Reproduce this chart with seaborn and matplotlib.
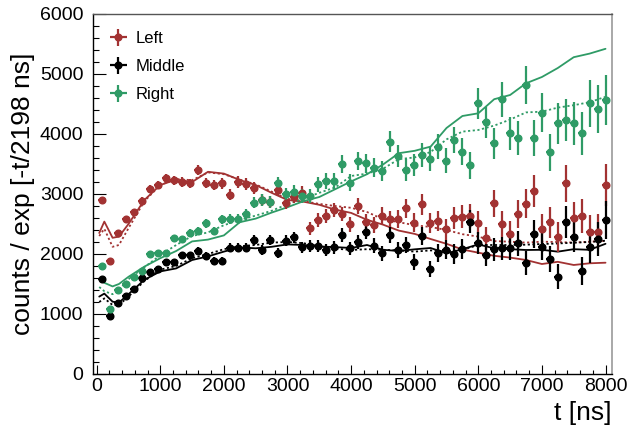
import numpy as np
import pandas as pd
import matplotlib
matplotlib.use("Agg")
import matplotlib.pyplot as plt
import seaborn as sns
from matplotlib.ticker import MultipleLocator

# ---------------- data ----------------
TAU = 2198.0          # ns, from the axis title
BIN_WIDTH = 125.8     # ns
FIRST_BIN = 83.0      # ns
n_bins = 64
t_bins = FIRST_BIN + BIN_WIDTH * np.arange(n_bins)

left_counts = [2900, 1880, 2345, 2578, 2695, 2880, 3085, 3150, 3260, 3233,
               3200, 3178, 3400, 3178, 3150, 3178, 2990, 3200, 3165, 3095,
               2900, 2860, 3067, 2855, 2955, 3011, 2428, 2567, 2633, 2733,
               2667, 2495, 2800, 2539, 2483, 2633, 2578, 2578, 2761, 2522,
               2828, 2511, 2550, 2411, 2594, 2622, 2633, 2522, 2265, 2845,
               2500, 2340, 2667, 2840, 3050, 2417, 2528, 2278, 3175, 2594,
               2633, 2372, 2372, 3150]
middle_counts = [1578, 965, 1178, 1300, 1420, 1600, 1706, 1744, 1861, 1861,
                 1978, 1978, 2056, 1967, 1883, 1883, 2106, 2106, 2106, 2233,
                 2067, 2233, 2022, 2222, 2278, 2111, 2133, 2133, 2067, 2111,
                 2317, 2094, 2205, 2372, 2139, 2011, 2317, 2067, 2150, 1872,
                 2300, 1750, 2011, 2067, 2000, 2083, 2539, 2189, 1983, 2078,
                 2094, 2094, 2178, 1855, 2333, 2122, 1917, 1622, 2528, 2289,
                 1717, 2122, 2244, 2567]
right_counts = [1800, 1083, 1400, 1500, 1610, 1720, 1994, 2011, 2011, 2261,
                2244, 2344, 2383, 2511, 2383, 2578, 2578, 2578, 2661, 2855,
                2895, 2860, 3180, 3000, 3039, 2967, 2967, 3160, 3220, 3210,
                3500, 3189, 3550, 3511, 3439, 3383, 3872, 3633, 3400, 3483,
                3650, 3578, 3789, 3556, 3900, 3706, 3478, 4511, 4194, 3845,
                4578, 4011, 3939, 4817, 3928, 4356, 3694, 4178, 4233, 4178,
                4011, 4511, 4411, 4567]

t_model = [40, 120, 250, 350, 500, 750, 1000, 1250, 1500, 1750, 2000, 2250,
           2500, 2750, 3000, 3250, 3500, 3750, 4000, 4250, 4500, 4750, 5000,
           5250, 5500, 5750, 6000, 6250, 6500, 6750, 7000, 7250, 7500, 7750,
           8000]
left_model_solid = [2350, 2540, 2270, 2290, 2500, 2900, 3150, 3240, 3200, 3370,
                    3340, 3233, 3150, 3020, 2900, 2872, 2820, 2740, 2685, 2570,
                    2490, 2390, 2335, 2250, 2170, 2075, 2022, 1970, 1940, 1900,
                    1833, 1870, 1817, 1845, 1855]
left_model_dotted = [2300, 2420, 2120, 2150, 2430, 2880, 3150, 3250, 3230, 3360,
                     3330, 3240, 3160, 3040, 2920, 2880, 2835, 2800, 2770, 2700,
                     2580, 2530, 2480, 2450, 2400, 2330, 2290, 2215, 2205, 2190,
                     2205, 2200, 2190, 2205, 2220]
middle_model_solid = [1290, 1340, 1205, 1190, 1330, 1570, 1710, 1760, 1900, 1960,
                      2040, 2110, 2095, 2120, 2160, 2150, 2125, 2115, 2100, 2150,
                      2070, 2050, 2078, 2100, 2011, 2080, 2160, 2094, 2080, 2067,
                      2070, 2039, 2080, 2070, 2170]
middle_model_dotted = [1200, 1260, 1150, 1150, 1290, 1550, 1740, 1800, 1930, 2000,
                       2080, 2130, 2150, 2190, 2200, 2180, 2130, 2090, 2067, 2080,
                       2070, 2060, 2040, 2060, 2045, 2070, 2150, 2150, 2150, 2155,
                       2167, 2175, 2189, 2200, 2222]
right_model_solid = [1580, 1520, 1460, 1500, 1620, 1790, 1930, 2050, 2210, 2240,
                     2310, 2530, 2590, 2690, 2780, 2880, 2950, 3080, 3210, 3330,
                     3490, 3680, 3720, 3790, 4100, 4300, 4345, 4580, 4650, 4845,
                     4950, 5100, 5280, 5340, 5420]
right_model_dotted = [1450, 1380, 1330, 1400, 1580, 1780, 1980, 2150, 2300, 2360,
                      2480, 2567, 2640, 2720, 2830, 2920, 3020, 3110, 3300, 3340,
                      3420, 3580, 3610, 3700, 3910, 4040, 4067, 4140, 4240, 4360,
                      4372, 4440, 4480, 4530, 4620]

series_names = ["Left", "Middle", "Right"]
colors = {"Left": "#a23232", "Middle": "#000000", "Right": "#2f9b66"}

# ---------------- build tables ----------------
model_rows = []
for name, solid, dotted in [("Left", left_model_solid, left_model_dotted),
                            ("Middle", middle_model_solid, middle_model_dotted),
                            ("Right", right_model_solid, right_model_dotted)]:
    for t, v in zip(t_model, solid):
        model_rows.append({"t": t, "value": v, "series": name, "kind": "solid"})
    for t, v in zip(t_model, dotted):
        model_rows.append({"t": t, "value": v, "series": name, "kind": "dotted"})
models = pd.DataFrame(model_rows)

data_counts = {"Left": left_counts, "Middle": middle_counts, "Right": right_counts}

# ---------------- plot ----------------
sns.set_theme(style="white")
plt.rcParams["font.family"] = ["Liberation Sans", "DejaVu Sans"]
plt.rcParams["text.color"] = "black"
plt.rcParams["axes.labelcolor"] = "black"

fig = plt.figure(figsize=(6.42, 4.30), dpi=100)
ax = fig.add_axes([93 / 642, 1 - 374 / 430, (612 - 93) / 642, (374 - 14) / 430])

sns.lineplot(data=models, x="t", y="value", hue="series", style="kind",
             hue_order=series_names, palette=colors,
             dashes={"solid": "", "dotted": (1.2, 1.4)},
             linewidth=1.3, legend=False, ax=ax, estimator=None, sort=False)

for name in series_names:
    y = np.asarray(data_counts[name], dtype=float)
    err = np.sqrt(y * np.exp(t_bins / TAU))  # Poisson error of the rescaled counts
    ax.errorbar(t_bins, y, yerr=err, xerr=BIN_WIDTH / 2, fmt="o",
                color=colors[name], ms=4.8, elinewidth=1.6, capsize=0,
                label=name, zorder=5)

ax.set_xlim(-58, 8102)
ax.set_ylim(0, 6000)
ax.xaxis.set_major_locator(MultipleLocator(1000))
ax.xaxis.set_minor_locator(MultipleLocator(200))
ax.yaxis.set_major_locator(MultipleLocator(1000))
ax.yaxis.set_minor_locator(MultipleLocator(200))

ax.tick_params(axis="both", which="both", direction="in", colors="black",
               width=0.8, labelsize=14, top=False, right=False,
               bottom=True, left=True)
ax.tick_params(axis="x", which="major", length=6.5, pad=3)
ax.tick_params(axis="x", which="minor", length=3.2)
ax.tick_params(axis="y", which="major", length=9, pad=7)
ax.tick_params(axis="y", which="minor", length=4.5)

for side in ["left", "bottom"]:
    ax.spines[side].set_color("black")
    ax.spines[side].set_linewidth(1.0)
ax.spines["top"].set_color("#555555")
ax.spines["right"].set_color("#9a9a9a")
ax.spines["top"].set_linewidth(1.0)
ax.spines["right"].set_linewidth(1.2)

ax.set_xlabel("t [ns]", fontsize=19, loc="right", labelpad=4, color="black")
ax.set_ylabel("counts / exp [-t/2198 ns]", fontsize=19, labelpad=3, color="black")

leg = ax.legend(loc="upper left", bbox_to_anchor=(0.035, 0.952), frameon=False,
                fontsize=12, handlelength=0.85, handletextpad=0.6,
                labelspacing=0.78, borderpad=0, borderaxespad=0)
for txt in leg.get_texts():
    txt.set_color("black")

fig.savefig("out.png", dpi=100)
